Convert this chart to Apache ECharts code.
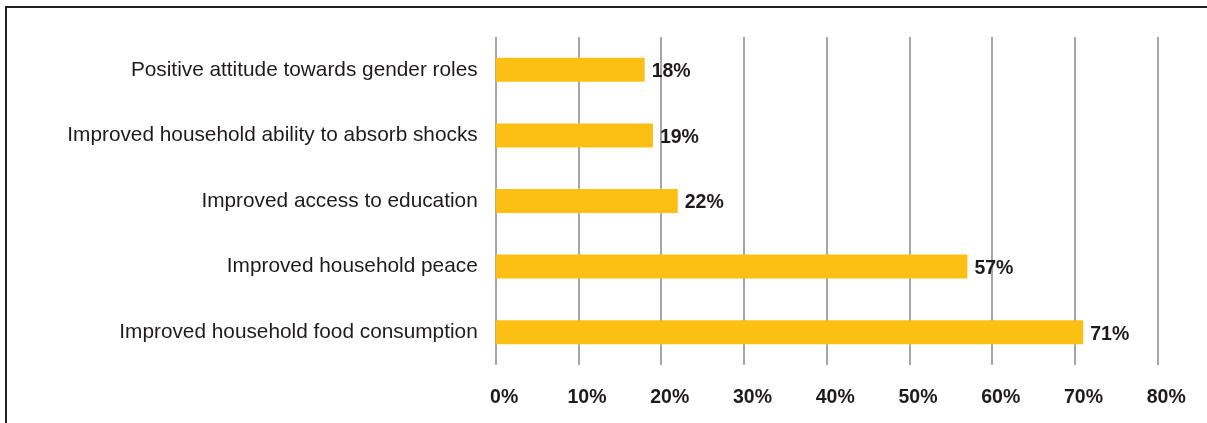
<!DOCTYPE html>
<html>
<head>
<meta charset="utf-8">
<script src="https://cdn.jsdelivr.net/npm/echarts@6/dist/echarts.min.js"></script>
<style>
  html, body { margin: 0; padding: 0; background: #ffffff; }
  #chart { width: 1207px; height: 423px; }
</style>
</head>
<body>
<div id="chart"></div>
<script>
// Reported outcomes, share of respondents
const categories = [
  'Positive attitude towards gender roles',
  'Improved household ability to absorb shocks',
  'Improved access to education',
  'Improved household peace',
  'Improved household food consumption'
];
const values = [18, 19, 22, 57, 71];
const tickValues = [0, 10, 20, 30, 40, 50, 60, 70, 80];

const textColor = '#1f1b1c';
const chart = echarts.init(document.getElementById('chart'), null, { renderer: 'canvas' });

chart.setOption({
  animation: false,
  backgroundColor: '#ffffff',
  textStyle: { fontFamily: 'Liberation Sans, Arial, sans-serif' },
  graphic: [
    // frame: top and left rules
    { type: 'line', shape: { x1: 5, y1: 7, x2: 1207, y2: 7 }, style: { stroke: '#231f20', lineWidth: 2 } },
    { type: 'line', shape: { x1: 6, y1: 6, x2: 6, y2: 423 }, style: { stroke: '#231f20', lineWidth: 2 } }
  ],
  grid: { left: 495.7, right: 49.3, top: 37, bottom: 58, containLabel: false },
  xAxis: {
    type: 'value',
    min: tickValues[0],
    max: tickValues[tickValues.length - 1],
    interval: 10,
    axisLine: { show: false },
    axisTick: { show: false },
    splitLine: { show: true, lineStyle: { color: '#a6a6a6', width: 2 } },
    axisLabel: {
      formatter: v => v + '%',
      color: textColor,
      fontSize: 19.5,
      fontWeight: 'bold',
      margin: 23,
      padding: [0, 0, 0, 17]
    }
  },
  yAxis: {
    type: 'category',
    data: categories,
    inverse: true,
    axisLine: { show: false },
    axisTick: { show: false },
    splitLine: { show: false },
    axisLabel: { color: textColor, fontSize: 20.8, margin: 18, padding: [3, 0, 0, 0] }
  },
  series: [{
    type: 'bar',
    data: values,
    barWidth: 24,
    itemStyle: { color: '#fcbf14' },
    label: {
      show: true,
      position: 'right',
      distance: 7,
      offset: [0, 2],
      formatter: p => p.value + '%',
      color: textColor,
      fontSize: 19.5,
      fontWeight: 'bold'
    }
  }]
});
</script>
</body>
</html>
